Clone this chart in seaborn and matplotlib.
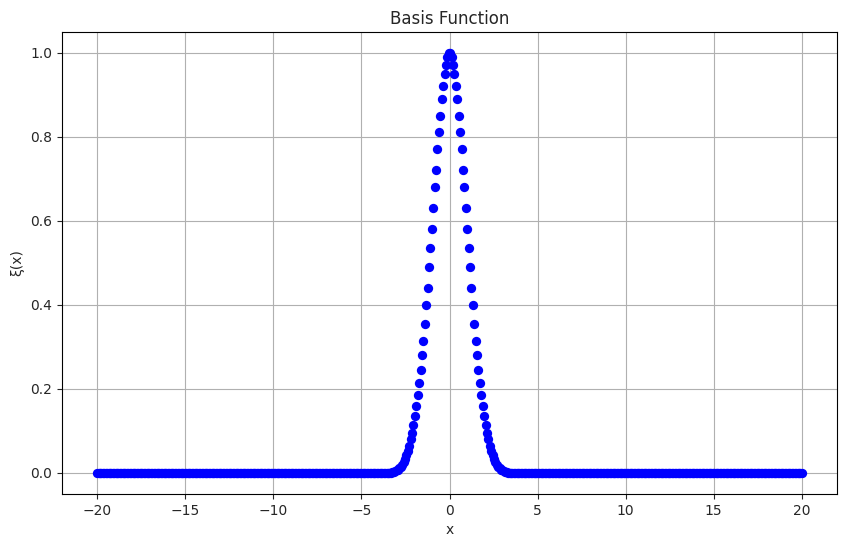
import numpy as np
import matplotlib
matplotlib.use("Agg")
import matplotlib.pyplot as plt
import seaborn as sns

# values: right half starting at the point just right of the peak
right_half = [0.999, 0.99, 0.97, 0.95, 0.92, 0.89, 0.85, 0.81, 0.77, 0.72,
              0.68, 0.63, 0.58, 0.535, 0.49, 0.44, 0.40, 0.355, 0.315, 0.28,
              0.245, 0.215, 0.185, 0.16, 0.135, 0.115, 0.095, 0.08, 0.065, 0.052,
              0.042, 0.033, 0.026, 0.02, 0.015, 0.011, 0.008, 0.006, 0.004, 0.003,
              0.002, 0.001]
N_POINTS = 500
X_MIN, X_MAX = -20, 20

half = right_half + [0.0] * (N_POINTS // 2 - len(right_half))
y = half[::-1] + half
x = np.linspace(X_MIN, X_MAX, N_POINTS)

sns.set_style("white")
fig = plt.figure(figsize=(8.46, 5.47), dpi=100)
ax = fig.add_axes([62 / 846, 53 / 547, 775 / 846, 462 / 547])
sns.scatterplot(x=x, y=y, color="blue", s=45, linewidth=0, ax=ax)
ax.set_title("Basis Function")
ax.set_xlabel("x")
ax.set_ylabel("ξ(x)")
ax.grid(True, color="#b0b0b0")
for s in ax.spines.values():
    s.set_color("black")
ax.tick_params(left=True, bottom=True)
fig.savefig("out.png", dpi=100)
